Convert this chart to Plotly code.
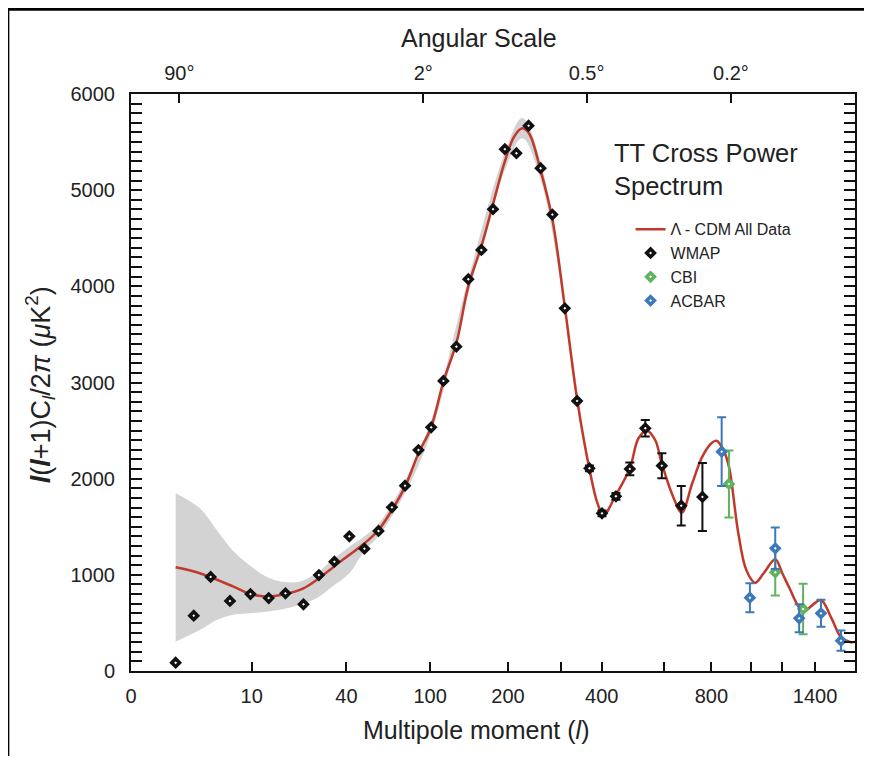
import numpy as np
import plotly.graph_objects as go

# multipole axis of the original figure is a hand-warped scale:
# tick values (l) and where they sit along the axis (axis units, 0..726)
L_KNOTS = [0, 10, 40, 100, 200, 300, 400, 600, 800, 1000, 1200, 1400, 1700]
U_KNOTS = [0, 121, 216, 300, 378, 431, 472, 534, 582, 622, 653, 686, 735]

bottom_ticks = [0, 10, 40, 100, 200, 300, 400, 600, 800, 1000, 1200, 1400]
bottom_labels = ["0", "10", "40", "100", "200", "", "400", "", "800", "", "", "1400"]
top_ticks = [4, 95, 363, 898]
top_labels = ["90°", "2°", "0.5°", "0.2°"]

# Lambda-CDM best fit curve
curve_l = [3.7, 5.7, 8.5, 9.9, 13, 15.4, 20.7, 26.4, 31.3, 36, 42, 53, 63, 72.6, 82, 91.6,
           101, 117, 134, 149, 166, 181, 196, 212, 227, 240, 262, 284, 310, 340, 370, 390,
           406, 446, 491, 519, 546, 573, 594, 640, 676, 720, 762, 800, 826, 860, 888, 935,
           975, 1024, 1080, 1155, 1200, 1240, 1327, 1380, 1436, 1500, 1560, 1620, 1645]
curve_c = [1078, 1016, 877, 800, 780, 773, 800, 860, 964, 1085, 1206, 1328, 1466, 1674, 1917, 2264,
           2530, 3010, 3420, 4000, 4420, 4860, 5300, 5560, 5644, 5590, 5200, 4700, 3780, 2820, 2100, 1740,
           1622, 1830, 2108, 2420, 2499, 2402, 2160, 1813, 1646, 1952, 2229, 2368, 2395, 2300, 2125, 1432,
           1050, 918, 1016, 1162, 1019, 877, 617, 680, 738, 550, 350, 300, 305]

# cosmic variance band
band_l = [3.7, 5.7, 7.1, 8.4, 9.8, 14.7, 19.8, 25.1, 30.5, 35.5, 42.1, 53, 63, 82, 101,
          149, 196, 227, 262, 310, 350]
band_hi = [1848, 1692, 1466, 1258, 1102, 981, 929, 929, 1016, 1154, 1293, 1400, 1530, 1980, 2600,
           4080, 5390, 5750, 5290, 3820, 2600]
band_lo = [305, 426, 530, 582, 600, 617, 642, 686, 756, 877, 1016, 1250, 1400, 1850, 2470,
           3920, 5210, 5540, 5110, 3740, 2560]

# WMAP
wmap_l = [3.7, 5.2, 6.6, 8.2, 9.9, 15.4, 20.7, 26.4, 31.3, 36.2, 42.1, 52.9, 63, 72.6, 82, 91.6,
          101.3, 117, 133.7, 149, 165.8, 180.8, 196, 216, 239, 261.7, 284, 309.8, 339.8,
          370, 401, 446, 491, 541, 594.5, 674, 762.5]
wmap_c = [86, 575, 978, 728, 800, 759, 808, 693, 998, 1137, 1400, 1272, 1456, 1702, 1927, 2298,
          2534, 3016, 3373, 4074, 4378, 4802, 5426, 5384, 5671, 5228, 4746, 3772, 2808,
          2108, 1640, 1817, 2101, 2524, 2135, 1719, 1810]
wmap_err = [0, 0, 0, 0, 0, 0, 0, 0, 0, 0, 0, 0, 0, 0, 0, 0,
            0, 0, 0, 0, 0, 0, 0, 0, 0, 0, 0, 0, 0,
            30, 30, 35, 66, 85, 130, 205, 354]

# CBI
cbi_l = [888, 1155, 1327]
cbi_c = [1945, 1026, 645]
cbi_err = [348, 240, 263]

# ACBAR
acbar_l = [851.5, 993, 1155, 1303, 1436, 1559]
acbar_c = [2281, 762, 1276, 548, 600, 315]
acbar_err = [357, 150, 215, 145, 140, 105]


def warp(l):
    return np.interp(l, L_KNOTS, U_KNOTS)


RED = "#c0392b"
BLUE = "#3d78b8"
GREEN = "#5fb35f"
FONT = "Liberation Sans, Arial, sans-serif"

fig = go.Figure()

# grey band on the bottom axis, everything else on the top axis so it is drawn above the band
fig.add_trace(go.Scatter(x=warp(band_l), y=band_hi, mode="lines",
                         line=dict(width=0, shape="spline"), showlegend=False, hoverinfo="skip"))
fig.add_trace(go.Scatter(x=warp(band_l), y=band_lo, mode="lines",
                         line=dict(width=0, shape="spline"), fill="tonexty",
                         fillcolor="#d3d3d3", showlegend=False, hoverinfo="skip"))

fig.add_trace(go.Scatter(x=warp(curve_l), y=curve_c, xaxis="x2", mode="lines",
                         name="\u039b - CDM All Data",
                         line=dict(color=RED, width=2.5, shape="spline", smoothing=1.0)))


def points(l, c, err, color, name):
    return go.Scatter(
        x=warp(l), y=c, xaxis="x2", mode="markers", name=name,
        marker=dict(symbol="diamond", size=6, color="white", line=dict(color=color, width=3.5)),
        error_y=dict(type="data", array=err, color=color, thickness=2, width=4.5),
    )


fig.add_trace(points(wmap_l, wmap_c, wmap_err, "#111111", "WMAP"))
fig.add_trace(points(cbi_l, cbi_c, cbi_err, GREEN, "CBI"))
fig.add_trace(points(acbar_l, acbar_c, acbar_err, BLUE, "ACBAR"))

axis_common = dict(showline=True, linewidth=2, linecolor="#111", showgrid=False, zeroline=False,
                   ticks="inside", tickwidth=2, tickcolor="#111",
                   tickfont=dict(family=FONT, size=20, color="#222"))

fig.update_layout(
    width=856, height=748,
    margin=dict(l=123, r=7, t=86, b=85),
    plot_bgcolor="white", paper_bgcolor="white",
    font=dict(family=FONT, color="#222"),
    xaxis=dict(range=[0, 726], tickmode="array", tickvals=warp(bottom_ticks), ticktext=bottom_labels,
               ticklen=9, ticklabelstandoff=6, **axis_common),
    xaxis2=dict(range=[0, 726], overlaying="x", side="top", tickmode="array",
                tickvals=warp(top_ticks), ticktext=top_labels, ticklen=9, ticklabelstandoff=4,
                **axis_common),
    yaxis=dict(range=[0, 6000], dtick=1000, ticklen=11, mirror="allticks", ticklabelstandoff=10,
               minor=dict(dtick=100, ticks="inside", ticklen=5, tickwidth=1.5, tickcolor="#111"),
               **axis_common),
    legend=dict(x=0.690, y=0.795, xanchor="left", yanchor="top", bgcolor="rgba(0,0,0,0)",
                traceorder="normal",
                font=dict(family=FONT, size=16, color="#222"), itemwidth=30, tracegroupgap=0),
    showlegend=True,
    annotations=[
        dict(text="Angular Scale", x=0.4807, y=1.097, xref="paper", yref="paper",
             yanchor="middle", showarrow=False, font=dict(size=25)),
        dict(text="Multipole moment (<i>l</i>)", x=0.4766, y=-0.1023, xref="paper", yref="paper",
             yanchor="middle", showarrow=False, font=dict(size=25)),
        dict(text="<b><i>l</i></b>(<b><i>l</i></b>+1)C<sub><i>l</i></sub>/2<i>\u03c0</i> (<i>\u03bc</i>K<sup>2</sup>)",
             x=-0.1253, y=0.4957, xref="paper", yref="paper", textangle=-90,
             xanchor="center", yanchor="middle", showarrow=False, font=dict(size=27)),
        dict(text="TT Cross Power<br>Spectrum", x=0.6639, y=0.9255, xref="paper", yref="paper",
             xanchor="left", yanchor="top", align="left", showarrow=False, font=dict(size=25.5)),
    ],
    shapes=[
        dict(type="line", xref="paper", yref="paper", x0=-0.1701, x1=-0.1701, y0=1.147, y1=-0.2,
             line=dict(color="black", width=3)),
        dict(type="line", xref="paper", yref="paper", x0=-0.1701, x1=1.1, y0=1.147, y1=1.147,
             line=dict(color="black", width=3)),
    ],
)

fig.write_html("out.html")
